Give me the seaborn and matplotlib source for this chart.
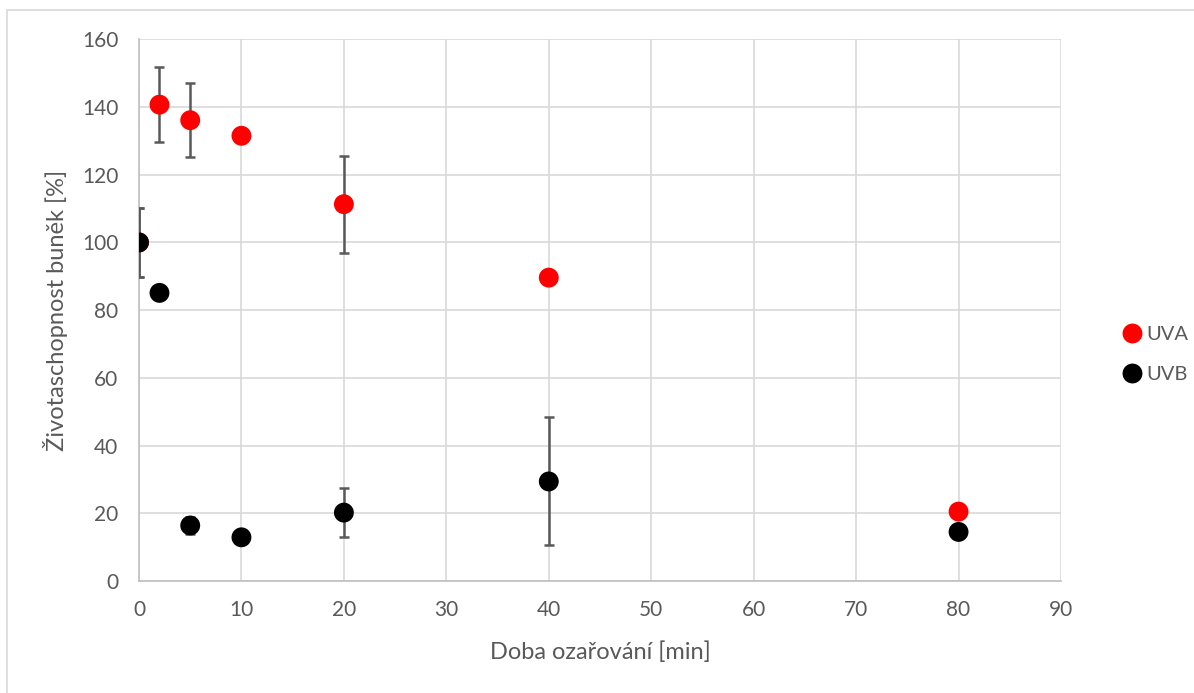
import matplotlib
matplotlib.use("Agg")
import matplotlib.pyplot as plt
import seaborn as sns
import pandas as pd
from matplotlib.patches import Rectangle

# Data
times = [0, 2, 5, 10, 20, 40, 80]
uva = [100, 140.7, 136.1, 131.5, 111.3, 89.6, 20.5]
uva_err = [10.3, 11.1, 11.0, 1.8, 14.3, 0.0, 0.0]
uvb = [100, 85.1, 16.4, 12.9, 20.2, 29.4, 14.5]
uvb_err = [10.3, 0.0, 2.5, 0.0, 7.2, 18.9, 0.0]
series_names = ["UVA", "UVB"]
colors = {"UVA": "#ff0000", "UVB": "#000000"}

df = pd.concat([
    pd.DataFrame({"t": times, "v": uva, "err": uva_err, "série": "UVA"}),
    pd.DataFrame({"t": times, "v": uvb, "err": uvb_err, "série": "UVB"}),
], ignore_index=True)

sns.set_theme(style="white")
plt.rcParams['font.family'] = ['Lato', 'DejaVu Sans']

fig = plt.figure(figsize=(11.94, 6.93), dpi=100)
ax = fig.add_axes([139/1194, 1 - 581/693, (1061-139)/1194, (581-39.3)/693])

# chart border
fig.patches.append(Rectangle((7/1194, -0.1), 1.2, 1 - 10/693 + 0.1,
                             transform=fig.transFigure, fill=False,
                             edgecolor="#d9d9d9", linewidth=1.2))

for name in series_names:
    sub = df[df["série"] == name]
    ax.errorbar(sub["t"], sub["v"], yerr=sub["err"], fmt="none",
                ecolor="#595959", elinewidth=1.8, capsize=3.8, capthick=1.8,
                zorder=2.6, clip_on=True)

sns.scatterplot(data=df, x="t", y="v", hue="série", hue_order=series_names,
                palette=colors, s=205, edgecolor="none", ax=ax, zorder=3,
                legend=True)

ax.set_xlim(0, 90)
ax.set_ylim(0, 160)
ax.set_xticks(range(0, 91, 10))
ax.set_yticks(range(0, 161, 20))
ax.grid(True, color="#d9d9d9", linewidth=1.2)
ax.set_axisbelow(True)
for s in ["top", "right"]:
    ax.spines[s].set_visible(False)
for s in ["left", "bottom"]:
    ax.spines[s].set_color("#bfbfbf")
    ax.spines[s].set_linewidth(1.2)
ax.tick_params(axis="both", colors="#595959", labelsize=15, length=0)
ax.tick_params(axis="y", pad=15)
ax.tick_params(axis="x", pad=14)
ax.set_xlabel("Doba ozařování [min]", fontsize=17, color="#595959")
ax.set_ylabel("Životaschopnost buněk [%]", fontsize=17, color="#595959")
ax.xaxis.set_label_coords(0.5, (581 - 641) / 541.7)
ax.yaxis.set_label_coords((68 - 139) / 922, 0.5)

handles, labels = ax.get_legend_handles_labels()
leg = ax.legend(handles, labels, loc="center left", bbox_to_anchor=(1.0467, 0.418),
                frameon=False, fontsize=14.5, labelspacing=1.15, handletextpad=0.2,
                markerscale=1.0, handlelength=1.0)
for t in leg.get_texts():
    t.set_color("#595959")

fig.savefig("out.png", dpi=100, facecolor="white")
